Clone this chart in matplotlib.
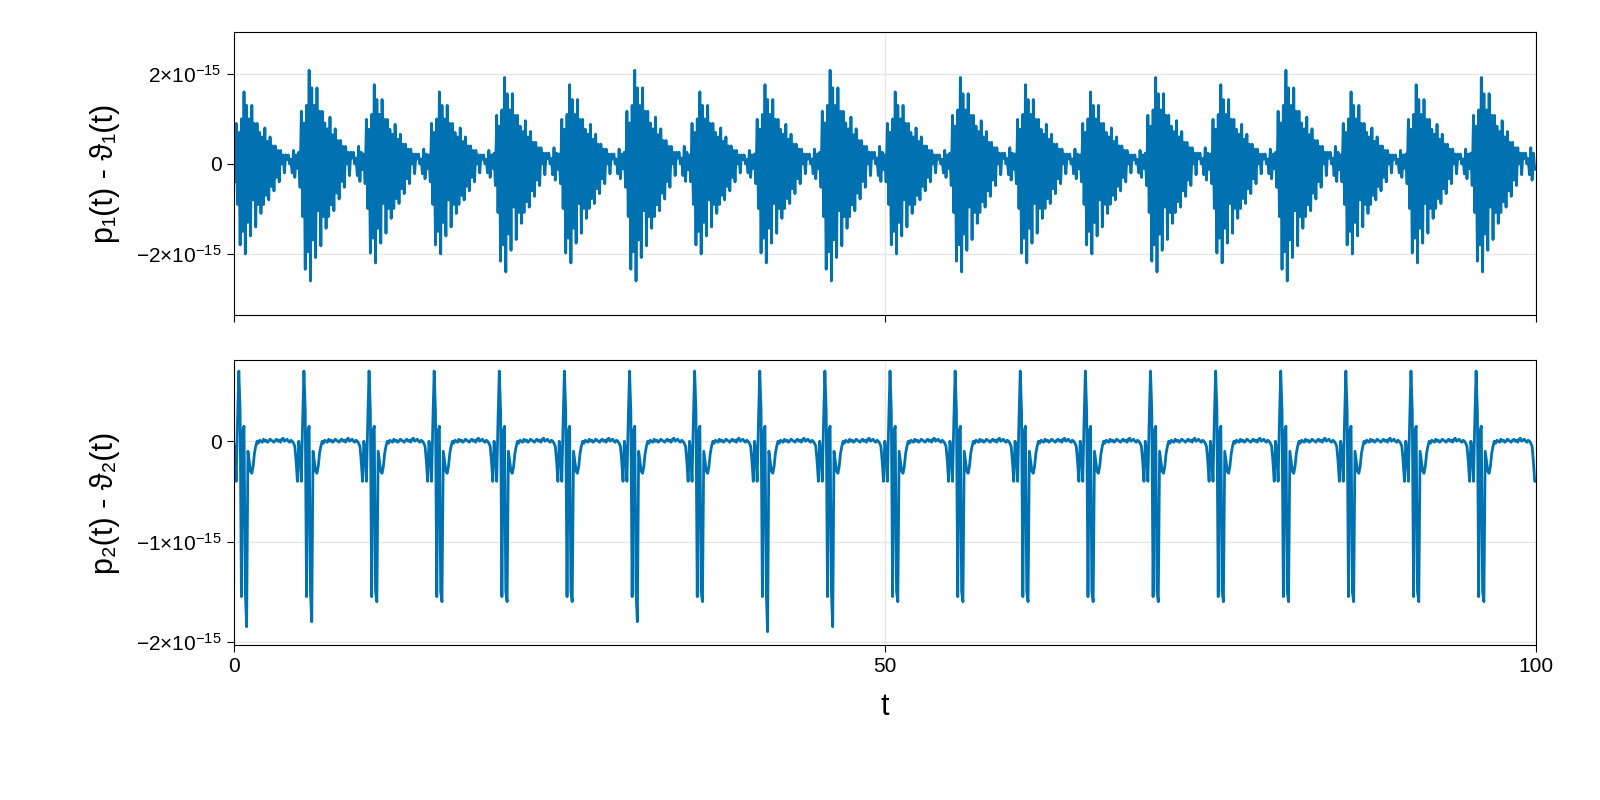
import numpy as np
import matplotlib
matplotlib.use("Agg")
import matplotlib.pyplot as plt
from matplotlib.ticker import FixedLocator

plt.rcParams['font.family'] = ['Liberation Sans', 'DejaVu Sans']
plt.rcParams['mathtext.fontset'] = 'custom'
plt.rcParams['mathtext.rm'] = 'Liberation Sans'
plt.rcParams['mathtext.it'] = 'Liberation Sans'

# one cycle (5 time units, dt=0.1), values in units of 1e-15
top_cycle = [0.2,-0.4,0.9,-0.9,0.7,-1.8,1.0,-1.5,1.6,-2.0,1.3,-1.3,1.0,-1.6,1.3,-0.8,0.9,-1.4,0.9,-0.9,
             0.7,-1.1,0.6,-0.9,0.8,-0.7,0.5,-0.8,0.6,-0.5,0.4,-0.6,0.4,-0.3,0.3,-0.4,0.3,0.0,0.2,-0.2,
             0.2,0.1,0.2,0.0,0.1,-0.2,0.3,-0.3,0.2,-0.1]
top_scale = [1.0,1.3,1.1,1.0,1.2,1.1,1.3,1.0,1.1,1.3,1.0,1.2,1.1,1.0,1.2,1.1,1.3,1.0,1.1,1.2]
bot_cycle = [0.0,-0.1,-0.4,0.2,0.7,0.3,-1.55,0.1,0.15,-1.5,-1.8,-0.1,-0.2,-0.3,-0.32,-0.25,-0.12,-0.05,0.0,-0.02,
             0.01,0.0,-0.01,0.02,0.0,0.01,-0.01,0.0,0.02,0.01,0.0,-0.01,0.01,0.02,0.0,0.01,-0.01,0.02,0.03,0.0,
             0.01,0.02,0.0,-0.01,0.01,0.0,-0.02,-0.05,-0.2,-0.4]
bot_min = [-1.85,-1.8,-1.6,-1.6,-1.6,-1.6,-1.8,-1.6,-1.9,-1.85,-1.6,-1.6,-1.6,-1.6,-1.6,-1.6,-1.6,-1.6,-1.6,-1.6]

t = np.arange(0, 100.0001, 0.1)
top = []
bot = []
for k in range(20):
    top += [v * top_scale[k] for v in top_cycle]
    c = list(bot_cycle); c[10] = bot_min[k]
    bot += c
top.append(top[-1]); bot.append(bot[-1])
top = np.array(top) * 1e-15
bot = np.array(bot) * 1e-15

blue = '#0072B2'
fig = plt.figure(figsize=(16, 8), dpi=100)
ax1 = fig.add_axes([0.146, 0.606, 0.814, 0.354])
ax2 = fig.add_axes([0.146, 0.194, 0.814, 0.356])
ax1.plot(t, top, color=blue, lw=2)
ax2.plot(t, bot, color=blue, lw=2)
ax1.set_ylim(-3.36e-15, 2.93e-15)
ax2.set_ylim(-2.03e-15, 0.81e-15)
for ax in (ax1, ax2):
    ax.set_xlim(0, 100)
    ax.xaxis.set_major_locator(FixedLocator([0, 50, 100]))
    ax.grid(True, color='#e6e6e6', lw=1)
    ax.set_axisbelow(True)
    ax.tick_params(labelsize=15, length=5, direction='out')
ax1.yaxis.set_major_locator(FixedLocator([-2e-15, 0, 2e-15]))
ax1.set_yticklabels([r'$-2{\times}10^{-15}$', '0', r'$2{\times}10^{-15}$'])
ax2.yaxis.set_major_locator(FixedLocator([-2e-15, -1e-15, 0]))
ax2.set_yticklabels([r'$-2{\times}10^{-15}$', r'$-1{\times}10^{-15}$', '0'])
ax1.set_xticklabels([])
ax2.set_xticklabels(['0', '50', '100'])
ax1.set_ylabel('p₁(t) - ϑ₁(t)', fontsize=22, labelpad=12)
ax2.set_ylabel('p₂(t) - ϑ₂(t)', fontsize=22, labelpad=12)
ax2.set_xlabel('t', fontsize=22, labelpad=12)
fig.savefig('out.png')
